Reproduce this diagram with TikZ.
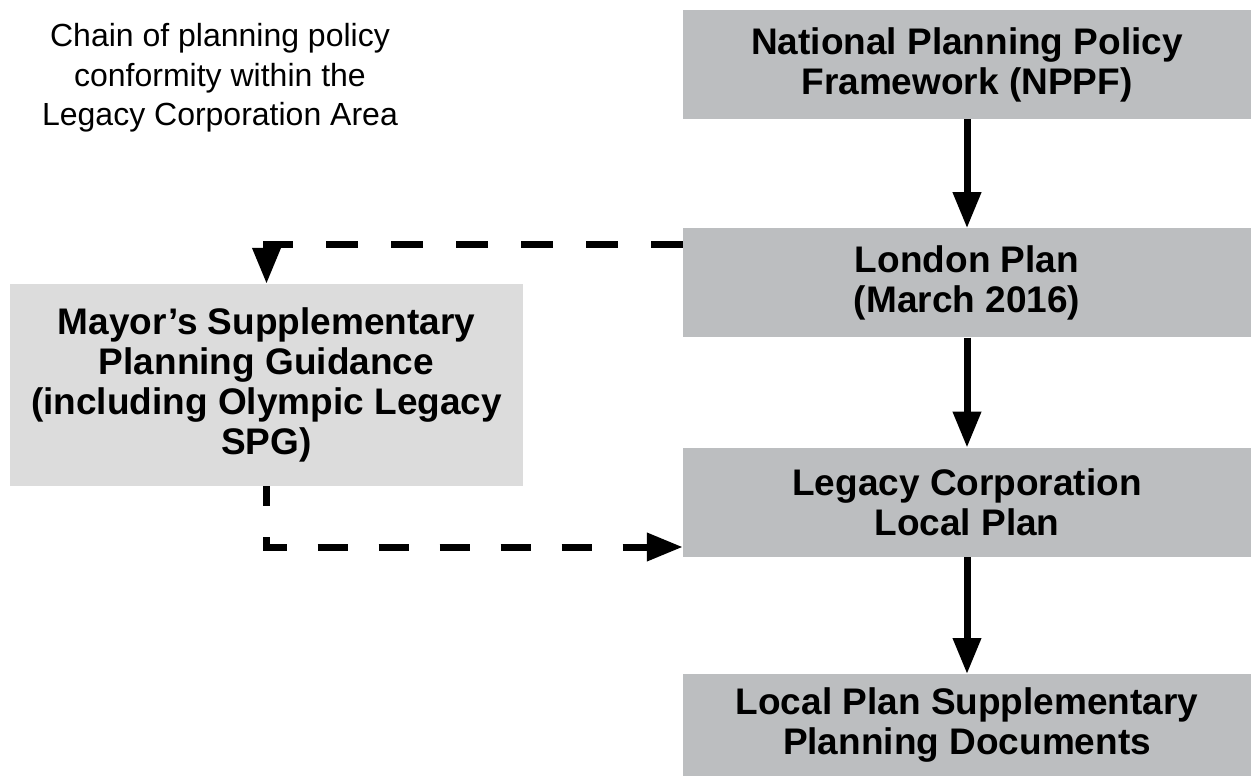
\documentclass[tikz,border=0pt]{standalone}
\usepackage{fontspec}
\setmainfont{Liberation Sans}
\usetikzlibrary{arrows.meta,positioning}
\definecolor{boxgrey}{HTML}{BCBEC0}
\definecolor{spggrey}{HTML}{DCDCDC}

\begin{document}
\begin{tikzpicture}
  [
   x=1pt,y=-1pt,
   node distance=110pt,
   doc/.style={rectangle,fill=boxgrey,inner sep=0pt,minimum width=568pt,minimum height=109pt,
               align=center,font=\fontsize{37}{40}\selectfont\bfseries},
   spg/.style={doc,fill=spggrey,minimum width=513pt,minimum height=202pt},
   flow/.style={line width=7pt,-{Triangle[length=36pt,width=27pt]}},
   link/.style={flow,dash pattern=on 32pt off 33pt}
  ]
   \useasboundingbox (0,0) rectangle (1251,776);

   \node[align=center,font=\fontsize{32}{39.5}\selectfont] (title) at (220,78)
     {Chain of planning policy\\conformity within the\\Legacy Corporation Area};

   \node[doc] (nppf) at (967,64.5) {National Planning Policy\\Framework (NPPF)};
   \node[doc] (london) [below=109pt of nppf] {London Plan\\(March 2016)};
   \node[doc] (legacy) [below=of london] {Legacy Corporation\\Local Plan};
   \node[doc,minimum height=102pt] (spd) [below=117pt of legacy] {Local Plan Supplementary\\Planning Documents};
   \node[spg] (mayor) at (266.5,385) {Mayor’s Supplementary\\Planning Guidance\\(including Olympic Legacy\\SPG)};

   \draw[flow] (nppf) -- (london);
   \draw[flow] (london) -- (legacy);
   \draw[flow] (legacy) -- (spd);
   \draw[link] ([yshift=-16pt]london.north west) -| (mayor.north);
   \draw[link,dash pattern=on 30pt off 31pt,dash phase=10pt] (mayor.south) |- ([yshift=10pt]legacy.south west);

\end{tikzpicture}
\end{document}
